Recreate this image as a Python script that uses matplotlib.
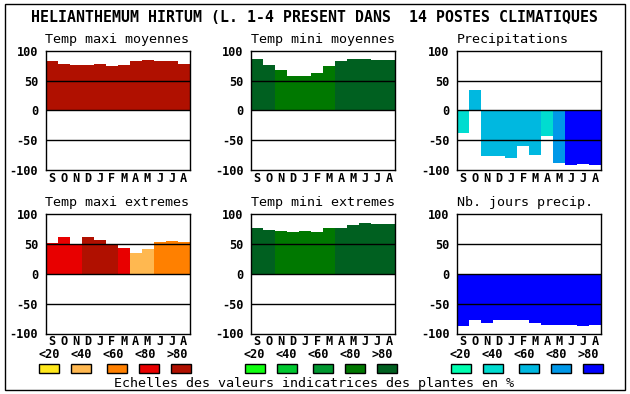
import matplotlib
matplotlib.use("Agg")
import matplotlib.pyplot as plt
import numpy as np
from matplotlib.patches import Rectangle

W, H = 630, 394

months = ["S", "O", "N", "D", "J", "F", "M", "A", "M", "J", "J", "A"]

title = "HELIANTHEMUM HIRTUM (L. 1-4 PRESENT DANS  14 POSTES CLIMATIQUES"
footer = "Echelles des valeurs indicatrices des plantes en %"
scale_labels = ["<20", "<40", "<60", "<80", ">80"]

# colour scales (index 0..4 = <20 .. >80)
warm = ["#FFE81C", "#FFB850", "#FF8000", "#E80000", "#B01000"]
green = ["#10FF10", "#00C830", "#009830", "#007800", "#006020"]
blue = ["#00FFB0", "#00DCD0", "#00B8E0", "#0098E8", "#0000FF"]

# values, class = index into colour scale
tmax_moy = [83, 78, 76, 76, 78, 74, 76, 83, 85, 83, 83, 78]
tmax_moy_cls = [4, 4, 4, 4, 4, 4, 4, 4, 4, 4, 4, 4]

tmin_moy = [86, 76, 67, 57, 57, 62, 74, 83, 86, 86, 84, 84]
tmin_moy_cls = [4, 4, 3, 3, 3, 3, 3, 4, 4, 4, 4, 4]

precip = [-38, 35, -77, -76, -79, -59, -75, -42, -88, -92, -89, -92]
precip_cls = [1, 2, 2, 2, 2, 2, 2, 1, 3, 4, 4, 4]

tmax_ext = [52, 62, 50, 62, 57, 50, 43, 34, 42, 53, 55, 53]
tmax_ext_cls = [3, 3, 3, 4, 4, 4, 3, 1, 1, 2, 2, 2]

tmin_ext = [77, 73, 72, 70, 72, 70, 77, 77, 82, 85, 84, 84]
tmin_ext_cls = [4, 4, 3, 3, 3, 3, 3, 4, 4, 4, 4, 4]

nb_jours = [-88, -78, -83, -78, -77, -78, -83, -85, -85, -85, -88, -86]
nb_jours_cls = [4, 4, 4, 4, 4, 4, 4, 4, 4, 4, 4, 4]

panels = [
    ("Temp maxi moyennes", tmax_moy, tmax_moy_cls, warm),
    ("Temp mini moyennes", tmin_moy, tmin_moy_cls, green),
    ("Precipitations", precip, precip_cls, blue),
    ("Temp maxi extremes", tmax_ext, tmax_ext_cls, warm),
    ("Temp mini extremes", tmin_ext, tmin_ext_cls, green),
    ("Nb. jours precip.", nb_jours, nb_jours_cls, blue),
]

MONO = "DejaVu Sans Mono"


def fx(x):
    return x / W


def fy(y):
    return 1 - y / H


fig = plt.figure(figsize=(W / 100, H / 100), dpi=100)
fig.patch.set_facecolor("white")

# outer frame
fig.add_artist(Rectangle((fx(4.5), fy(389.5)), fx(620), (389.5 - 4) / H,
                         transform=fig.transFigure, fill=False,
                         edgecolor="black", lw=1.0))

fig.text(fx(314.5), fy(18), title, ha="center", va="center",
         family=MONO, weight="bold", fontsize=10.75)

col_left = [45.7, 251.3, 457.3]
row_top = [50.7, 214]
ax_w, ax_h = 143.8, 119.5

x = np.arange(12)
for i, (name, vals, cls, pal) in enumerate(panels):
    r, c = divmod(i, 3)
    left, top = col_left[c], row_top[r]
    ax = fig.add_axes([fx(left), fy(top + ax_h), ax_w / W, ax_h / H])
    ax.bar(x, vals, width=1.0, align="edge", color=[pal[k] for k in cls],
           linewidth=0, zorder=1)
    for yv in (50, 0, -50):
        ax.axhline(yv, color="black", lw=1.0, zorder=2)
    ax.set_xlim(0, 12)
    ax.set_ylim(-100, 100)
    ax.set_yticks([100, 50, 0, -50, -100])
    ax.set_yticklabels(["100", "50", "0", "-50", "-100"], family=MONO,
                       weight="bold", fontsize=8.6)
    ax.set_xticks(x + 0.5)
    ax.set_xticklabels(months, family=MONO, weight="bold", fontsize=8.6)
    ax.tick_params(axis="y", length=0, pad=5.5)
    ax.tick_params(axis="x", length=0, pad=1.0)
    for s in ax.spines.values():
        s.set_linewidth(1.0)
        s.set_zorder(3)

    fig.text(fx(left - 0.5), fy(top - 8), name, ha="left", va="baseline",
             family=MONO, fontsize=9.6)

    if r == 1:
        for k in range(5):
            fig.text(fx(left + 3 + 32 * k), fy(354.5), scale_labels[k],
                     ha="center", va="center", family=MONO, weight="bold",
                     fontsize=8.6)
        box_off = [-6.5, 25.5, 61.5, 93.5, 125.5]
        for k in range(5):
            fig.add_artist(Rectangle((fx(left + box_off[k]), fy(373)),
                                     fx(20), 9 / H,
                                     transform=fig.transFigure,
                                     facecolor=pal[k], edgecolor="black",
                                     lw=1.0))

fig.text(fx(314.5), fy(386.5), footer, ha="center", va="baseline",
         family=MONO, fontsize=9.6)

fig.savefig("out.png", dpi=100)
